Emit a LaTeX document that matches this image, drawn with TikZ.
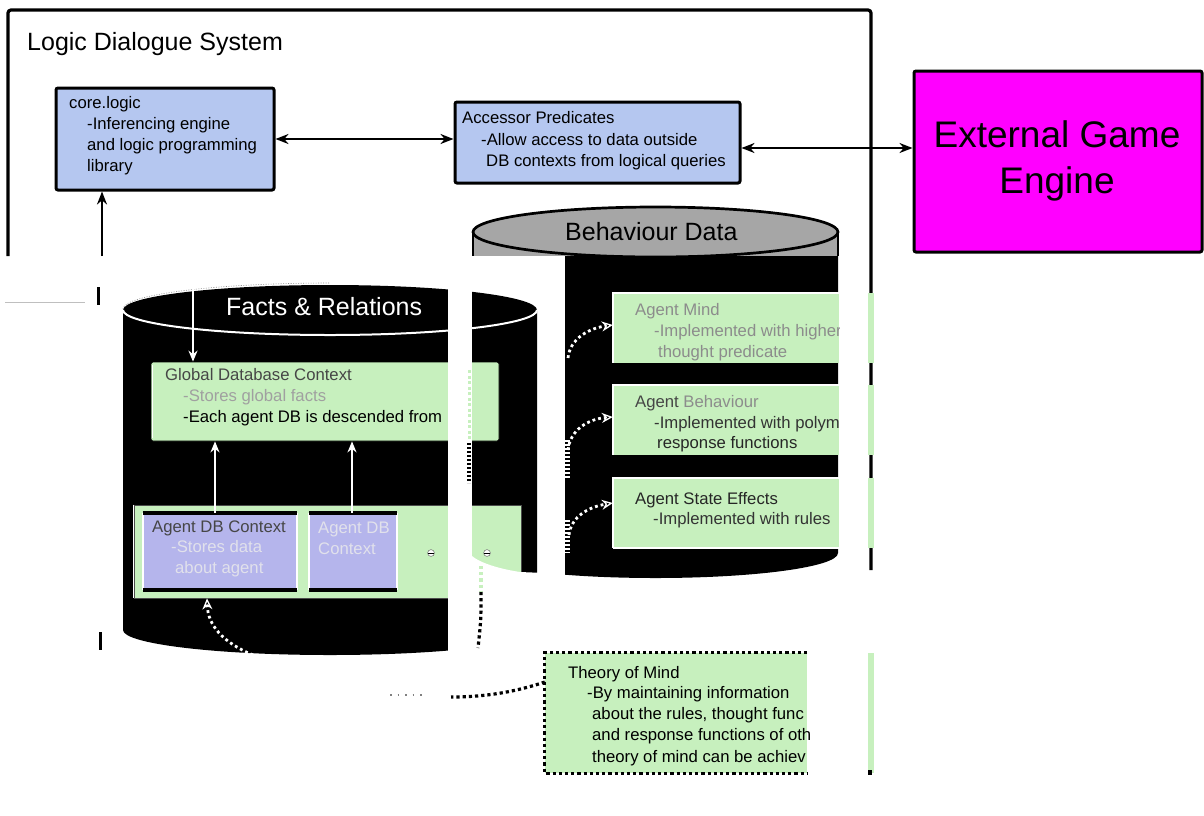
\documentclass[tikz,border=0pt]{standalone}
\usepackage{fontspec}
\setmainfont{Liberation Sans}
\usetikzlibrary{arrows.meta,calc}
\definecolor{lblue}{RGB}{181,199,240}
\definecolor{lpurple}{RGB}{181,181,236}
\definecolor{lgreen}{RGB}{199,240,190}
\definecolor{cgray}{RGB}{166,166,166}
\definecolor{magen}{RGB}{255,0,255}
\definecolor{txlight}{RGB}{160,160,160}
\definecolor{txlightp}{RGB}{225,225,235}
\definecolor{txgreen}{RGB}{140,140,140}
\definecolor{txmid}{RGB}{70,70,70}
\newcommand\factscyl{%
  \fill[black] (123,310) -- (123,630) arc[start angle=180,end angle=360,x radius=207pt,y radius=25pt] -- (537,310) arc[start angle=0,end angle=180,x radius=207pt,y radius=25pt] -- cycle;
  \draw[white,line width=2pt] (123,310) arc[start angle=180,end angle=360,x radius=207pt,y radius=25pt];
  \draw[black!45,line width=0.6pt,dash pattern=on 1pt off 1.5pt] (123,309) arc[start angle=180,end angle=90,x radius=207pt,y radius=26pt];
}
\begin{document}
\begin{tikzpicture}[x=1pt,y=-1pt,
  bx/.style={draw=black,line width=3pt,rounded corners=2pt,inner sep=0pt},
  tx/.style={anchor=base west,inner sep=0pt,font=\fontsize{16.7}{20}\selectfont},
  bigtx/.style={anchor=base west,inner sep=0pt,font=\fontsize{25}{30}\selectfont},
  hd/.style={line width=2.7pt,{Stealth[length=13pt,width=10pt]}-{Stealth[length=13pt,width=10pt]}},
  uparr/.style={line width=2.7pt,-{Stealth[length=13pt,width=10pt]}},
  wline/.style={white,line width=2.6pt,-{Stealth[length=11pt,width=9pt]}},
  wdot/.style={white,line width=2.8pt,dash pattern=on 2.8pt off 3pt,-{Stealth[length=11pt,width=10pt,open,line width=1.3pt]}},
  dotb/.style={black,line width=3.2pt,dash pattern=on 3.2pt off 3pt},
  gbox/.style={fill=lgreen,inner sep=0pt},
  pbox/.style={fill=lpurple,inner sep=0pt,rounded corners=2pt},
]
\useasboundingbox (0,0) rectangle (1204,815);
\fill[white] (0,0) rectangle (1204,815);

% frame
\draw[line width=3.2pt,rounded corners=3pt] (8,256) -- (8,10) -- (871,10) -- (871,570);
\node[bigtx] (title) at (27,50) {Logic Dialogue System};

% top boxes
\node[bx,fill=lblue,minimum width=218,minimum height=102] (core) at (165,139) {};
\node[bx,fill=lblue,minimum width=285,minimum height=81] (acc) at (597.5,142.5) {};
\node[bx,fill=magen,minimum width=288,minimum height=181] (ext) at (1058,161.5) {};
\node[tx] (c1) at (69,108) {core.logic};
\node[tx] (c2) at (87,129) {-Inferencing engine};
\node[tx] (c3) at (87,150) {and logic programming};
\node[tx] (c4) at (87,171) {library};
\node[tx] (a1) at (462,123) {Accessor Predicates};
\node[tx] (a2) at (481,145) {-Allow access to data outside};
\node[tx] (a3) at (486,166) {DB contexts from logical queries};
\node[anchor=base,inner sep=0pt,font=\fontsize{37}{44}\selectfont] (e1) at (1057,147) {External Game};
\node[anchor=base,inner sep=0pt,font=\fontsize{37}{44}\selectfont] (e2) at (1057,193) {Engine};

\draw[hd] (core.east) -- (core.east -| acc.west);
\coordinate (ae) at (741,148);
\draw[hd] (acc.east |- ae) -- (ext.west |- ae);
\coordinate (cu) at (102,256);
\draw[uparr] (cu) -- (cu |- core.south);

\fill (96.5,287) rectangle (99.5,305);
\fill (98.5,632) rectangle (101.5,650);
\draw[black!25,line width=0.6pt] (5,302) -- (85,302);

% Behaviour Data cylinder
\fill[cgray] (473,232) rectangle (838,256);
\begin{scope}
  \clip (565,0) rectangle (839,815);
  \fill[black] (473,256) -- (473,553) arc[start angle=180,end angle=360,x radius=182.5pt,y radius=25pt] -- (838,256) -- cycle;
\end{scope}
\draw[line width=2.7pt] (473,232) -- (473,256) (838,232) -- (838,256);
\draw[line width=2.7pt,fill=cgray] (655.5,232) ellipse [x radius=182.5pt,y radius=25pt];
\node[bigtx] (bdl) at (565,240) {Behaviour Data};

\node[gbox,minimum width=226,minimum height=70] (mind) at (726,328) {};
\node[gbox,minimum width=226,minimum height=70] (behav) at (726,420) {};
\node[gbox,minimum width=226,minimum height=70] (state) at (726,513) {};
\foreach \nm in {mind,behav,state}{\draw[white,line width=2pt] (\nm.north east) -- (\nm.north west) -- (\nm.south west);}
\draw[white,line width=2pt] (state.south west) -- (state.south east);
\begin{scope}
  \clip (600,280) rectangle (839,560);
  \node[tx,text=txgreen] (m1) at (635,315) {Agent Mind};
  \node[tx,text=txgreen] (m2) at (654,336) {-Implemented with higher};
  \node[tx,text=txgreen] (m3) at (658,357) {thought predicate};
  \node[tx,text=txmid] (b1) at (635,407) {Agent \textcolor{txgreen}{Behaviour}};
  \node[tx,text=black!80] (b2) at (654,428) {-Implemented with polym};
  \node[tx,text=black!85] (b3) at (657,448) {response functions};
  \node[tx,text=black!85] (s1) at (635,504) {Agent State Effects};
  \node[tx,text=black!80] (s2) at (653,524) {-Implemented with rules};
\end{scope}
\coordinate (w1) at (568,358);
\draw[wdot] (w1) .. controls (570,338) and (590,328) .. ($(mind.west)+(0,-3)$);
\coordinate (w2) at (568,450);
\draw[wdot] (w2) .. controls (570,430) and (588,419) .. ($(behav.west)+(0,-3)$);
\coordinate (w3) at (569,535);
\draw[wdot] (w3) .. controls (571,517) and (588,507) .. ($(state.west)+(0,-10)$);
\draw[white,line width=5pt,dash pattern=on 1.5pt off 2.5pt] (567.5,440) -- (567.5,478) (567.5,520) -- (567.5,553);

% Facts & Relations cylinder
\factscyl
\node[bigtx,text=white] (frl) at (226,315) {Facts \& Relations};
\node[gbox,draw=black,line width=0.8pt,rounded corners=2pt,minimum width=348,minimum height=79] (glob) at (325,401.5) {};
\draw[white,line width=1.2pt] ($(glob.north west)+(1.5,3)$) -- ($(glob.south west)+(1.5,-3)$);
\node[tx,text=txmid] (g1) at (165,380) {Global Database Context};
\node[tx,text=txlight] (g2) at (183,401) {-Stores global facts};
\node[tx] (g3) at (183,422) {-Each agent DB is descended from};

\node[gbox,draw=black!70,line width=0.8pt,minimum width=387,minimum height=93] (cont) at (327.5,551.5) {};
\draw[white,line width=1.2pt] (cont.north west) -- (cont.south west);
\node[pbox,minimum width=154,minimum height=77] (ag1) at (220,551.5) {};
\node[pbox,minimum width=88,minimum height=77] (ag2) at (353,551.5) {};
\foreach \nm in {ag1,ag2}{%
  \draw[white,line width=2pt] (\nm.north west) -- (\nm.south west) (\nm.north east) -- (\nm.south east);
  \draw[line width=3.5pt] (\nm.north west) -- (\nm.north east);
  \draw[line width=4.5pt] (\nm.south west) -- (\nm.south east);}
\node[tx,text=txmid] (p1) at (152,532) {Agent DB Context};
\node[tx,text=txlightp] (p2) at (171,552) {-Stores data};
\node[tx,text=txlightp] (p3) at (175,573) {about agent};
\node[tx,text=txlightp] (q1) at (318,533) {Agent DB};
\node[tx,text=txlightp] (q2) at (318,554) {Context};

\draw[wline] (215,0 |- ag1.north) -- (215,0 |- glob.south);
\draw[wline] (352,0 |- ag2.north) -- (352,0 |- glob.south);
\coordinate (t0) at (193,282);
\draw[wline] (t0) -- (193,0 |- glob.north);
\coordinate (d0) at (253,655);
\draw[wdot] (d0) .. controls (222,642) and (208,625) .. (207,0 |- cont.south);
\foreach \xx in {431,487}{%
  \draw[black!60,fill=white,line width=0.5pt] (\xx,553) circle[radius=3.4pt];
  \draw[line width=1.5pt] (\xx-2.6,553.5) -- (\xx+2.6,553.5);}

% white gaps of the picture
\fill[white] (448,256) rectangle (472,662);
\fill[white] (472,556) .. controls (480,563) and (500,569) .. (520,572) -- (545,573) -- (545,662) -- (472,662) -- cycle;
\draw[lgreen,line width=3pt,dash pattern=on 3pt off 2.5pt] (469,370) -- (469,440);
\draw[black,line width=4pt,dash pattern=on 2pt off 2pt] (469,443) -- (469,483);

% right column pieces
\foreach \ya/\yb in {293/363,385/455,478/548,653/773}{\fill[lgreen] (867.5,\ya) rectangle (874,\yb);}
\fill (868,770) rectangle (872,775);

% Theory of Mind
\node[gbox,minimum width=262,minimum height=120] (tom) at (676,713) {};
\draw[dotb] (tom.north east) -- (tom.north west) -- (tom.south west) -- (tom.south east);
\node[tx] (t1) at (568,678) {Theory of Mind};
\node[tx] (t2) at (587,698) {-By maintaining information};
\node[tx] (t3) at (592,719) {about the rules, thought func};
\node[tx] (t4) at (592,740) {and response functions of oth};
\node[tx] (t5) at (592,762) {theory of mind can be achiev};
\coordinate (q0) at (451,697);
\draw[dotb] (tom.west |- 0,682) .. controls (515,692) and (485,697) .. (q0);
\coordinate (gg0) at (390,695);
\coordinate (gg1) at (422,695);
\draw[black!50,line width=1.3pt,dash pattern=on 1.5pt off 6pt] (gg0) -- (gg1);
\coordinate (v0) at (481,566);
\coordinate (v1) at (481,592);
\coordinate (v2) at (478,648);
\draw[dotb,lgreen] (v0) -- (v1);
\draw[dotb] (v1) .. controls (481,620) .. (v2);
\end{tikzpicture}
\end{document}
